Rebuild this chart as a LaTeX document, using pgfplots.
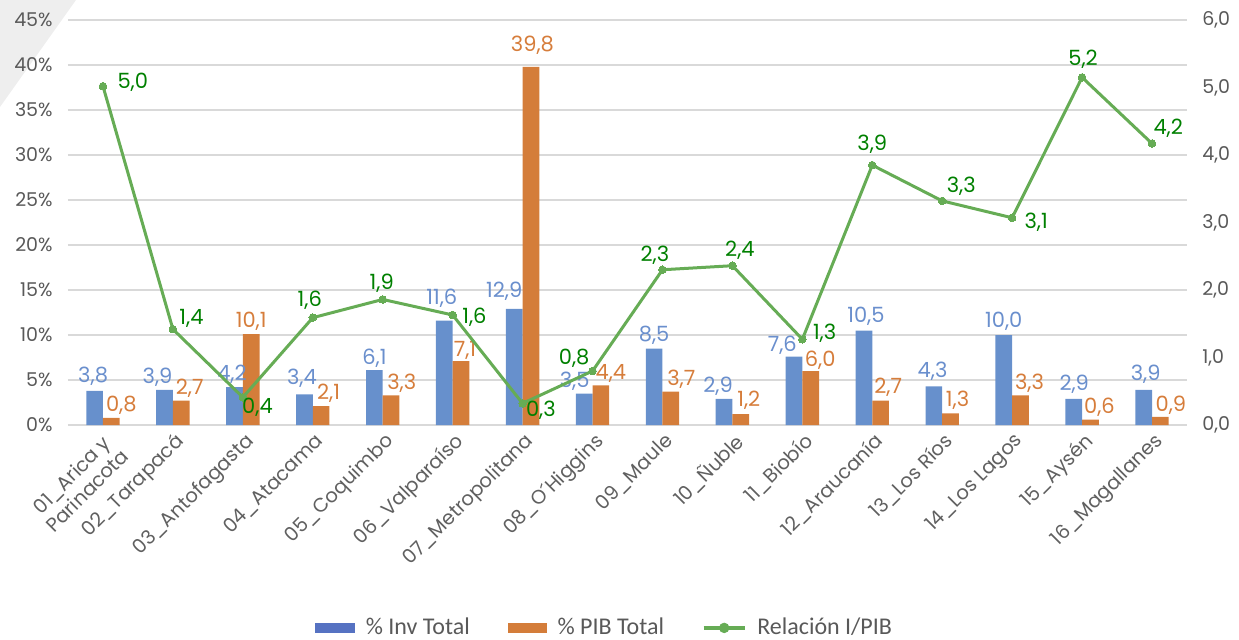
\documentclass[border=0pt]{standalone}
\usepackage{fontspec}
\setmainfont{Poppins}
\newfontfamily\legfont{Carlito}
\usepackage{pgfplots}
\pgfplotsset{compat=1.18}
\usepackage{pgfplotstable}

\definecolor{cblue}{HTML}{6790CC}
\definecolor{corange}{HTML}{D47D3A}
\definecolor{lblue}{HTML}{5672C2}
\definecolor{cgreen}{HTML}{66AC55}
\definecolor{cglab}{HTML}{008000}
\definecolor{cblab}{HTML}{6A8FCD}
\definecolor{colab}{HTML}{D67D3B}
\definecolor{cgrid}{HTML}{D9D9D9}
\definecolor{ctick}{HTML}{595959}
\definecolor{cxtick}{HTML}{606060}
\definecolor{ccorner}{HTML}{EEEEEE}

\pgfplotstableread{
x inv pib bdx bdy odx ody
0 3.8 0.8 -0.75 7.5 5 6.5
1 3.9 2.7 -3.5 6.5 4.25 6
2 4.2 10.1 -1.25 6.5 0 6.25
3 3.4 2.1 -1.25 8 3.75 6.5
4 6.1 3.3 0 6 5.35 6
5 11.6 7.1 -1.25 11 2 5.5
6 12.9 39.8 -5 9 0.75 11
7 3.5 4.4 -4.75 6 5 6
8 8.5 3.7 0 6.75 5.25 6.35
9 2.9 1.2 -3 6.5 4 6.75
10 7.6 6.0 -5.85 5.8 4.75 5.5
11 10.5 2.7 1 7 3.75 6.5
12 4.3 1.3 -0.65 7.75 3.5 6.5
13 10.0 3.3 0 7 4.5 5.8
14 2.9 0.6 0.25 7.5 4.5 6.3
15 3.9 0.9 1 8 5.25 5.7
}\bars

\pgfplotstableread{
x r lab gdx gdy
0 5.02 5,0 14.9 2
1 1.42 1,4 9.3 5.15
2 0.41 0,4 7.3 -5
3 1.59 1,6 -1.5 8.5
4 1.86 1,9 -0.5 8.25
5 1.63 1,6 10.9 -1
6 0.32 0,3 9.15 -3.35
7 0.80 0,8 -9.2 6.45
8 2.30 2,3 -3.8 7.1
9 2.36 2,4 3.75 7.5
10 1.27 1,3 11.15 3.25
11 3.85 3,9 0 10.5
12 3.32 3,3 9.5 7.1
13 3.07 3,1 12 -2.4
14 5.15 5,2 0.5 9.25
15 4.17 4,2 8.1 7.5
}\ratio

\begin{document}
\begin{tikzpicture}
\useasboundingbox (-34pt,-107pt) rectangle (585.5pt,212.5pt);
\fill[ccorner] (-34pt,212.5pt) -- (4pt,212.5pt) -- (-34pt,159pt) -- cycle;
\begin{axis}[
  at={(0,0)}, anchor=south west,
  scale only axis, width=559.5pt, height=202.5pt,
  clip=false,
  xmin=-0.5, xmax=15.5, ymin=0, ymax=45,
  ybar, bar width=8.35pt,
  axis line style={draw=none},
  tick style={draw=none},
  major tick length=0pt,
  ytick={0,5,...,45},
  yticklabel={\pgfmathprintnumber[assume math mode=true]{\tick}\%},
  yticklabel style={inner sep=0pt, xshift=-7.5pt, text=ctick, font=\fontsize{9.5}{11}\selectfont},
  ymajorgrids, grid style={cgrid, line width=0.75pt},
  xtick={0,...,15},
  xticklabels={{01\_Arica y\\Parinacota},02\_Tarapacá,03\_Antofagasta,04\_Atacama,05\_Coquimbo,06\_Valparaíso,07\_Metropolitana,08\_O´Higgins,09\_Maule,10\_Ñuble,11\_Biobío,12\_Araucanía,13\_Los Ríos,14\_Los Lagos,15\_Aysén,16\_Magallanes},
  xticklabel style={xshift=0.5pt, yshift=-3pt, rotate=45, anchor=north east, align=center, inner sep=0pt, text=cxtick, font=\fontsize{9.8}{11}\selectfont},
  legend style={at={(0.2207,-0.501)}, anchor=west, draw=none, fill=none, inner sep=0pt, outer sep=0pt,
    legend columns=3, font=\legfont\fontsize{12}{14}\selectfont, text=ctick,
    nodes={inner sep=0pt},
    /tikz/every odd column/.append style={column sep=5.5pt},
    /tikz/every even column/.append style={column sep=19pt}},
]
\addlegendimage{legend image code/.code={\fill[lblue] (0pt,-2.2pt) rectangle (19.5pt,2.2pt);}}
\addlegendentry{\% Inv Total}
\addlegendimage{legend image code/.code={\fill[corange] (0pt,-2.2pt) rectangle (19pt,2.2pt);}}
\addlegendentry{\% PIB Total}
\addlegendimage{legend image code/.code={\draw[cgreen, line width=1.6pt] (0pt,0pt) -- (20.5pt,0pt); \fill[cgreen] (10.25pt,0pt) circle (2.4pt);}}
\addlegendentry{Relación I/PIB}

\addplot[forget plot, fill=cblue, draw=none, bar shift=-4.175pt,
  visualization depends on={\thisrow{bdx}\as\bdx},
  visualization depends on={\thisrow{bdy}\as\bdy},
  nodes near coords={\pgfmathprintnumber[fixed,fixed zerofill,precision=1,use comma,assume math mode=true]{\pgfplotspointmeta}},
  every node near coord/.append style={anchor=center, xshift=\bdx pt, yshift=\bdy pt, text=cblab, font=\fontsize{10.5}{12}\selectfont, inner sep=0pt}
] table[x=x, y=inv]{\bars};
\addplot[forget plot, fill=corange, draw=none, bar shift=4.175pt,
  visualization depends on={\thisrow{odx}\as\odx},
  visualization depends on={\thisrow{ody}\as\ody},
  nodes near coords={\pgfmathprintnumber[fixed,fixed zerofill,precision=1,use comma,assume math mode=true]{\pgfplotspointmeta}},
  every node near coord/.append style={anchor=center, xshift=\odx pt, yshift=\ody pt, text=colab, font=\fontsize{10.5}{12}\selectfont, inner sep=0pt}
] table[x=x, y=pib]{\bars};
\end{axis}

\begin{axis}[
  at={(0,0)}, anchor=south west,
  scale only axis, width=559.5pt, height=202.5pt,
  clip=false,
  xmin=-0.5, xmax=15.5, ymin=0, ymax=6,
  axis line style={draw=none},
  tick style={draw=none},
  major tick length=0pt,
  xtick=\empty,
  ytick={0,1,...,6},
  yticklabel pos=right,
  yticklabel={\pgfmathprintnumber[fixed,fixed zerofill,precision=1,use comma,assume math mode=true]{\tick}},
  yticklabel style={inner sep=0pt, xshift=7.5pt, text=ctick, font=\fontsize{9.5}{11}\selectfont},
]
\addplot[cgreen, line width=1.5pt, mark=*, mark size=1.9pt, mark options={fill=cgreen, draw=cgreen, line width=0pt},
  point meta=explicit symbolic,
  visualization depends on={\thisrow{gdx}\as\gdx},
  visualization depends on={\thisrow{gdy}\as\gdy},
  nodes near coords,
  every node near coord/.append style={anchor=center, xshift=\gdx pt, yshift=\gdy pt, text=cglab, font=\fontsize{10.5}{12}\selectfont, inner sep=0pt}
] table[x=x, y=r, meta=lab]{\ratio};
\end{axis}
\end{tikzpicture}
\end{document}
